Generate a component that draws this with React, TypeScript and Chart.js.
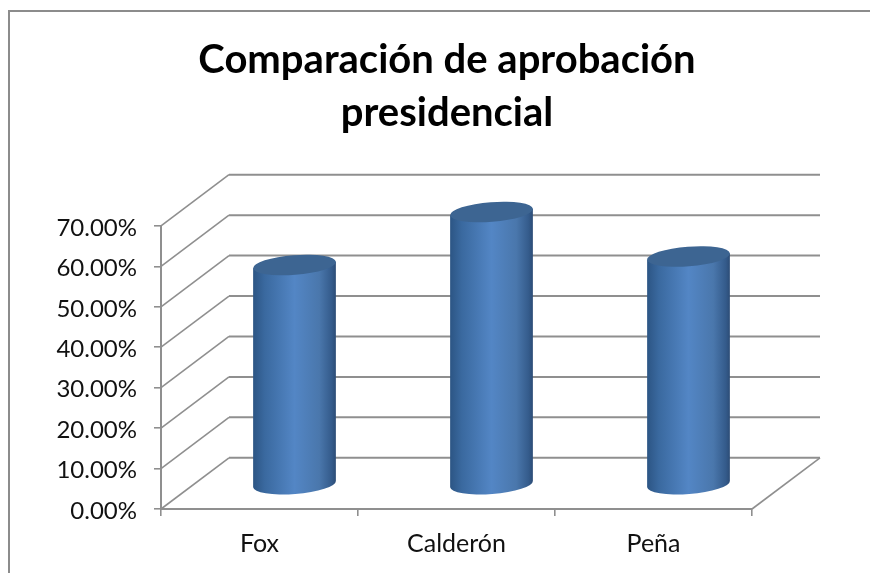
import React, { useEffect, useRef } from "react";
import { Chart, registerables, BarController, BarElement } from "chart.js";

// Approval ratings, in percent
const presidents = ["Fox", "Calderón", "Peña"];
const approval = [54.4, 67.5, 56.5];
const titleLines = ["Comparación de aprobación", "presidencial"];

const GRID = "#8f8f8f";
const FRAME = "#8c8c8c";
const WALL_DX = 68;
const WALL_DY = -51.2;
const BAR_DX = 35;
const BAR_DY = -24;

// Cylinder drawn in place of a flat bar, pushed halfway into the floor's depth
class CylinderElement extends BarElement {
  static id = "cylinder";
  draw(ctx: CanvasRenderingContext2D) {
    const { x, y, base, width } = (this as any).getProps(["x", "y", "base", "width"]);
    const cx = x + BAR_DX;
    const top = y + BAR_DY;
    const bottom = base + BAR_DY;
    const hw = width / 2;
    const tilt = -0.0765;
    const a = hw / Math.cos(tilt);
    const b = 9.8;
    const rise = hw * Math.tan(tilt);

    const side = ctx.createLinearGradient(cx - hw, 0, cx + hw, 0);
    side.addColorStop(0, "#2c5584");
    side.addColorStop(0.14, "#3a699f");
    side.addColorStop(0.5, "#5386c5");
    side.addColorStop(0.8, "#4a77ac");
    side.addColorStop(0.95, "#345b8b");
    side.addColorStop(1, "#2c4c76");

    ctx.save();
    ctx.fillStyle = side;
    ctx.beginPath();
    ctx.moveTo(cx - hw, top - rise);
    ctx.lineTo(cx - hw, bottom - rise);
    ctx.ellipse(cx, bottom, a, b, tilt, Math.PI, 0, true);
    ctx.lineTo(cx + hw, top + rise);
    ctx.closePath();
    ctx.fill();

    ctx.fillStyle = "#3d6592";
    ctx.beginPath();
    ctx.ellipse(cx, top, a, b, tilt, 0, Math.PI * 2);
    ctx.fill();
    ctx.restore();
  }
}

class CylinderController extends BarController {
  static id = "cylinder";
  static defaults = { dataElementType: "cylinder" };
}

Chart.register(...registerables, CylinderElement, CylinderController);

// Outer frame, receding walls, floor; the title is centred on the frame
const walls = {
  id: "walls",
  afterLayout(chart: any) {
    chart.titleBlock.left = 24;
    chart.titleBlock.right = 870;
  },
  beforeDatasetsDraw(chart: any) {
    const { ctx, chartArea } = chart;
    const y = chart.scales.y;
    const { left, right } = chartArea;
    ctx.save();

    ctx.strokeStyle = FRAME;
    ctx.lineWidth = 2;
    ctx.beginPath();
    ctx.moveTo(9, chart.height);
    ctx.lineTo(9, 11);
    ctx.lineTo(chart.width, 11);
    ctx.stroke();

    ctx.strokeStyle = GRID;
    for (const tick of y.ticks) {
      const py = y.getPixelForValue(tick.value);
      ctx.lineWidth = 1.6;
      ctx.beginPath();
      ctx.moveTo(left, py);
      ctx.lineTo(left + WALL_DX, py + WALL_DY);
      ctx.stroke();
      ctx.lineWidth = 2;
      ctx.beginPath();
      ctx.moveTo(left + WALL_DX, py + WALL_DY);
      ctx.lineTo(right + WALL_DX, py + WALL_DY);
      ctx.stroke();
    }

    const floor = y.getPixelForValue(0);
    ctx.lineWidth = 1.6;
    ctx.beginPath();
    ctx.moveTo(right, floor);
    ctx.lineTo(right + WALL_DX, floor + WALL_DY);
    ctx.stroke();
    ctx.restore();
  },
};

export default function App() {
  const ref = useRef<HTMLCanvasElement>(null);

  useEffect(() => {
    const chart = new Chart(ref.current!, {
      type: "cylinder" as any,
      data: {
        labels: presidents,
        datasets: [
          {
            data: approval,
            barPercentage: 0.42,
            categoryPercentage: 1,
            clip: false,
          } as any,
        ],
      },
      options: {
        animation: false,
        responsive: false,
        layout: { padding: { left: 0, right: 118, top: 0, bottom: 0 } },
        plugins: {
          legend: { display: false },
          tooltip: { enabled: false },
          title: {
            display: true,
            text: titleLines,
            color: "#000000",
            font: { family: "Lato", size: 40, weight: "bold", lineHeight: 1.33 },
            padding: { top: 33, bottom: 86.5 },
          },
        },
        scales: {
          x: {
            grid: { drawOnChartArea: false, color: GRID, lineWidth: 1.6, tickLength: 7 },
            border: { color: GRID, width: 2 },
            ticks: {
              color: "#111111",
              font: { family: "Lato", size: 25 },
              padding: 13,
              maxRotation: 0,
            },
            afterFit(scale: any) {
              scale.height = 64;
            },
          },
          y: {
            min: 0,
            max: 70,
            grid: { drawOnChartArea: false, color: GRID, lineWidth: 1.6, tickLength: 7 },
            border: { color: GRID, width: 2 },
            ticks: {
              stepSize: 10,
              color: "#111111",
              font: { family: "Lato", size: 24 },
              padding: 17,
              labelOffset: 2,
              callback: (v: any) => Number(v).toFixed(2) + "%",
            },
            afterFit(scale: any) {
              scale.width = 161;
            },
          },
        },
      },
      plugins: [walls],
    } as any);
    return () => chart.destroy();
  }, []);

  return (
    <div style={{ position: "fixed", left: 0, top: 0, width: 870, height: 573, background: "#ffffff" }}>
      <canvas ref={ref} width={870} height={573} style={{ display: "block" }} />
    </div>
  );
}
